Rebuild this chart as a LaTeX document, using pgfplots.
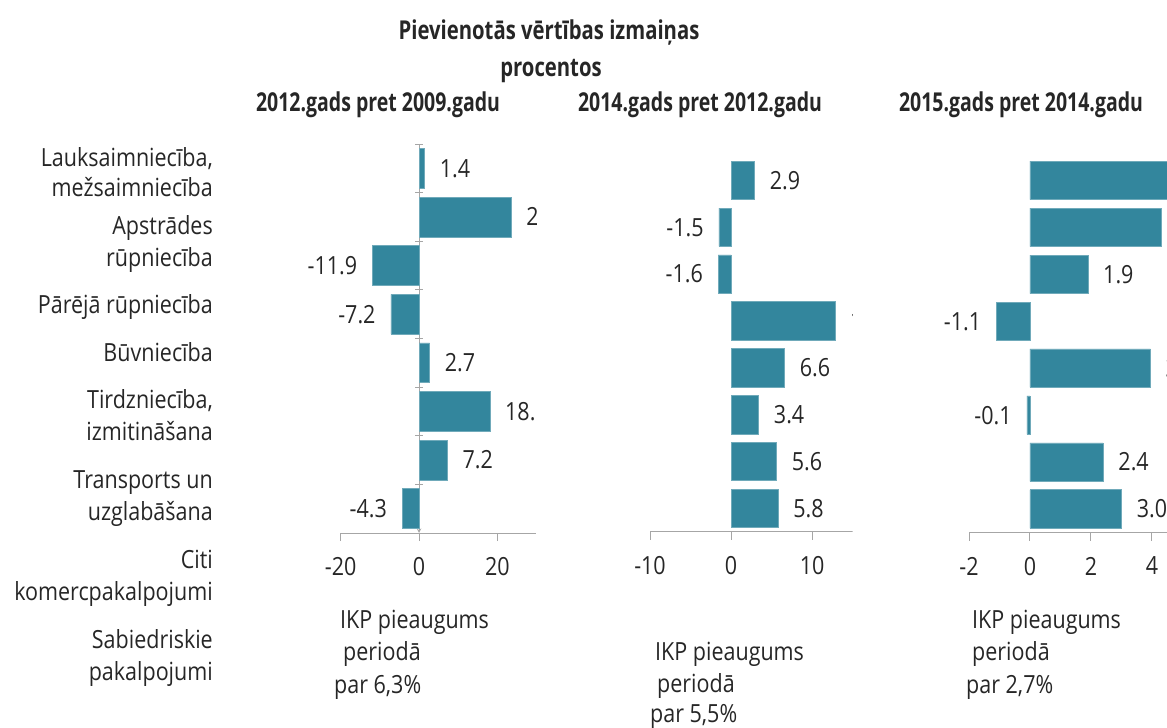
\documentclass[border=0pt]{standalone}
\usepackage{pgfplots}
\pgfplotsset{compat=1.18}
\usepackage{fontspec}
\setmainfont{Open Sans}[FakeStretch=0.86]
\newfontfamily\titlefont{Open Sans}[FakeStretch=0.78]
\newfontfamily\subfont{Open Sans}[FakeStretch=0.75]
\definecolor{barc}{RGB}{51,134,157}
\definecolor{axc}{RGB}{166,166,166}
\definecolor{txt}{RGB}{38,38,38}
\newcommand{\bodyfont}{\fontsize{25}{30}\selectfont}
\newcommand{\tfont}{\titlefont\bfseries\fontsize{26}{30}\selectfont}
\newcommand{\sfont}{\subfont\bfseries\fontsize{26}{30}\selectfont}

\pgfplotsset{
  panel/.style={
    scale only axis,
    anchor=south west,
    xbar,
    y dir=reverse,
    ymin=0.5, ymax=8.5,
    bar width=0.82,
    axis x line=bottom,
    axis line style={axc, line width=1pt, -},
    tick style={axc, line width=1pt},
    tick align=outside,
    major tick length=8pt,
    xticklabel style={font=\bodyfont, text=txt, yshift=-13pt},
    enlargelimits=false,
  },
  posbar/.style={fill=barc, draw=barc!70!white, line width=0.6pt, bar shift=0pt,
     nodes near coords, point meta=explicit symbolic,
     every node near coord/.append style={anchor=west, inner xsep=15pt, font=\bodyfont, text=txt}},
  negbar/.style={fill=barc, draw=barc!70!white, line width=0.6pt, bar shift=0pt,
     nodes near coords, point meta=explicit symbolic,
     every node near coord/.append style={anchor=east, inner xsep=15pt, font=\bodyfont, text=txt}},
}

\begin{document}
\begin{tikzpicture}[x=1pt, y=1pt, font=\bodyfont, text=txt]
\useasboundingbox (0,0) rectangle (1167,728);

% titles
\node[font=\tfont] at (549,695) {Pievienotās vērtības izmaiņas};
\node[font=\tfont] at (551,657) {procentos};
\node[font=\sfont] at (378,623) {2012.gads pret 2009.gadu};
\node[font=\sfont] at (700,623) {2014.gads pret 2012.gadu};
\node[font=\sfont] at (1021,623) {2015.gads pret 2014.gadu};

% category labels
\foreach \yy/\tx in {164/{Lauksaimniecība,}, 194/mežsaimniecība, 232/Apstrādes, 264/rūpniecība,
  311/Pārējā rūpniecība, 359/Būvniecība, 406/{Tirdzniecība,}, 438/izmitināšana,
  486/Transports un, 518/uzglabāšana, 566/Citi, 598/komercpakalpojumi,
  646/Sabiedriskie, 678/pakalpojumi}
  {\node[anchor=mid east, inner sep=0pt] at (213,728-\yy) {\tx};}

% GDP notes
\node[anchor=mid west, inner sep=0pt] at (340,728-626) {IKP pieaugums};
\node[anchor=mid west, inner sep=0pt] at (343,728-658) {periodā};
\node[anchor=mid west, inner sep=0pt] at (334,728-691) {par 6,3\%};
\node[anchor=mid west, inner sep=0pt] at (655,728-658) {IKP pieaugums};
\node[anchor=mid west, inner sep=0pt] at (657,728-690) {periodā};
\node[anchor=mid west, inner sep=0pt] at (650,728-720) {par 5,5\%};
\node[anchor=mid west, inner sep=0pt] at (972,728-626) {IKP pieaugums};
\node[anchor=mid west, inner sep=0pt] at (972,728-658) {periodā};
\node[anchor=mid west, inner sep=0pt] at (966,728-691) {par 2,7\%};

% Panel 1
\begin{scope}
\clip (0,0) rectangle (536.5,728);
\begin{axis}[panel, at={(340.7pt,195pt)}, width=195.8pt, height=389pt,
  xmin=-20, xmax=30, xtick={-20,0,20}, xticklabels={-20,0,20},
  axis y line=middle, ytick={0.5,1.5,...,8.5}, yticklabels={}]
\addplot[posbar] table[x=v, y=c, meta=l] {
c v l
1 1.4 1.4
2 23.5 23.5
5 2.7 2.7
6 18.1 18.1
7 7.2 7.2
};
\addplot[negbar] table[x=v, y=c, meta=l] {
c v l
3 -11.9 -11.9
4 -7.2 -7.2
8 -4.3 -4.3
};
\end{axis}
\end{scope}

% Panel 2
\begin{scope}
\clip (0,0) rectangle (852.7,728);
\begin{axis}[panel, at={(650pt,196.3pt)}, width=202.7pt, height=374.7pt,
  xmin=-10, xmax=15, xtick={-10,0,10}, xticklabels={-10,0,10},
  axis y line=none, ytick=\empty]
\addplot[posbar] table[x=v, y=c, meta=l] {
c v l
1 2.9 2.9
4 12.8 12.8
5 6.6 6.6
6 3.4 3.4
7 5.6 5.6
8 5.8 5.8
};
\addplot[negbar] table[x=v, y=c, meta=l] {
c v l
2 -1.5 -1.5
3 -1.6 -1.6
};
\end{axis}
\end{scope}

% Panel 3
\begin{axis}[panel, at={(969pt,195.5pt)}, width=198.2pt, height=375.5pt,
  xmin=-2, xmax=4.5, xtick={-2,0,2,4}, xticklabels={-2,0,2,4},
  axis y line=none, ytick=\empty]
\addplot[posbar] table[x=v, y=c, meta=l] {
c v l
1 5.2 5.2
2 4.3 4.3
3 1.9 1.9
5 3.95 3.9
7 2.4 2.4
8 3.0 3.0
};
\addplot[negbar] table[x=v, y=c, meta=l] {
c v l
4 -1.1 -1.1
6 -0.1 -0.1
};
\end{axis}
\end{tikzpicture}
\end{document}
